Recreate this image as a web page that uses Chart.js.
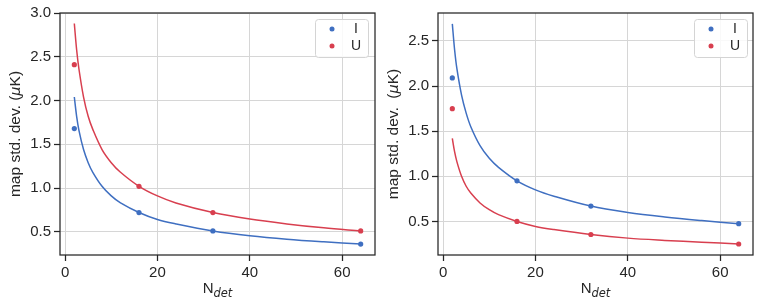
<!DOCTYPE html>
<html>
<head>
<meta charset="utf-8">
<script src="https://cdn.jsdelivr.net/npm/chart.js"></script>
<style>
  body { margin: 0; background: #fff; }
  .panel { position: absolute; top: 0; }
</style>
</head>
<body>
<div class="panel" style="left:0"><canvas id="left" width="380" height="302"></canvas></div>
<div class="panel" style="left:380px"><canvas id="right" width="378" height="302"></canvas></div>
<script>
// Fitted curves
const curveN = [2, 2.5, 3, 4, 5, 6, 8, 10, 12, 16, 20, 24, 32, 40, 48, 56, 64];
const leftCurveI = [2.04, 1.82, 1.66, 1.44, 1.29, 1.18, 1.02, 0.91, 0.83, 0.72, 0.64, 0.59, 0.51, 0.455, 0.415, 0.385, 0.36];
const leftCurveU = [2.88, 2.58, 2.36, 2.04, 1.82, 1.67, 1.44, 1.29, 1.18, 1.02, 0.91, 0.83, 0.72, 0.645, 0.59, 0.545, 0.51];
const rightCurveI = [2.69, 2.40, 2.19, 1.90, 1.70, 1.55, 1.34, 1.20, 1.10, 0.95, 0.85, 0.78, 0.67, 0.60, 0.55, 0.51, 0.475];
const rightCurveU = [1.42, 1.27, 1.16, 1.00, 0.89, 0.815, 0.705, 0.63, 0.575, 0.50, 0.445, 0.41, 0.355, 0.315, 0.29, 0.27, 0.25];

// Measured points
const measN = [2, 16, 32, 64];
const leftMeasI = [1.68, 0.72, 0.51, 0.36];
const leftMeasU = [2.41, 1.02, 0.72, 0.51];
const rightMeasI = [2.09, 0.95, 0.67, 0.475];
const rightMeasU = [1.75, 0.50, 0.355, 0.25];

const seriesLabels = ['I', 'U'];
const xTicks = [0, 20, 40, 60];
const leftYTicks = [0.5, 1.0, 1.5, 2.0, 2.5, 3.0];
const rightYTicks = [0.5, 1.0, 1.5, 2.0, 2.5];

const BLUE = '#3f6fc1';
const RED = '#d83f4f';
const INK = '#262626';
const FONT = '"Liberation Sans", Arial, sans-serif';
const MATH = '"DejaVu Sans", sans-serif';

const pts = (xs, ys) => xs.map((x, i) => ({ x, y: ys[i] }));

// draw a line of mixed-font text centred on (x, y), optionally rotated
function drawRich(ctx, segs, x, y, rot) {
    ctx.save();
    ctx.translate(x, y);
    if (rot) ctx.rotate(rot);
    ctx.fillStyle = INK;
    ctx.textBaseline = 'middle';
    ctx.textAlign = 'left';
    let w = 0;
    segs.forEach(s => { ctx.font = s.font; w += ctx.measureText(s.t).width; });
    let cx = -w / 2;
    segs.forEach(s => {
        ctx.font = s.font;
        ctx.fillText(s.t, cx, s.dy || 0);
        cx += ctx.measureText(s.t).width;
    });
    ctx.restore();
}

const decor = {
    id: 'decor',
    afterDraw(chart, args, o) {
        const { ctx, chartArea: a } = chart;
        // full box of spines
        ctx.save();
        ctx.strokeStyle = INK;
        ctx.lineWidth = 1.25;
        ctx.strokeRect(a.left, a.top, a.right - a.left, a.bottom - a.top);

        // legend frame
        const bx = a.right - o.legendRight - 53, by = a.top + o.legendTop, bw = 53, bh = 38;
        ctx.fillStyle = 'rgba(255,255,255,0.85)';
        ctx.strokeStyle = '#d4d4d4';
        ctx.lineWidth = 1;
        ctx.beginPath();
        ctx.roundRect(bx + 0.5, by + 0.5, bw, bh, 3);
        ctx.fill();
        ctx.stroke();
        [BLUE, RED].forEach((c, i) => {
            const yy = by + 10 + i * 17;
            ctx.fillStyle = c;
            ctx.beginPath();
            ctx.arc(bx + 17, yy, 2.5, 0, Math.PI * 2);
            ctx.fill();
            ctx.fillStyle = INK;
            ctx.font = '14px ' + FONT;
            ctx.textAlign = 'center';
            ctx.textBaseline = 'middle';
            ctx.fillText(seriesLabels[i], bx + 41, yy);
        });
        ctx.restore();

        // axis titles
        const midY = (a.top + a.bottom) / 2;
        drawRich(ctx, [
            { t: o.yPrefix, font: '15.5px ' + FONT },
            { t: 'μ', font: 'italic 14.5px ' + MATH },
            { t: 'K)', font: '15.5px ' + FONT }
        ], o.yTitleX, midY, -Math.PI / 2);
        drawRich(ctx, [
            { t: 'N', font: '15px ' + FONT },
            { t: 'det', font: 'italic 11.5px ' + MATH, dy: 5 }
        ], (a.left + a.right) / 2, 289, 0);
    }
};

function makeChart(id, cfg) {
    const curve = (data, color) => ({
        type: 'line', data, borderColor: color, borderWidth: 1.5,
        pointRadius: 0, tension: 0.35, fill: false
    });
    const dots = (label, data, color) => ({
        type: 'scatter', label, data, backgroundColor: color, borderWidth: 0, pointRadius: 2.6
    });
    const datasets = [
        curve(pts(curveN, cfg.curveI), BLUE),
        curve(pts(curveN, cfg.curveU), RED),
        dots(seriesLabels[0], pts(measN, cfg.measI), BLUE),
        dots(seriesLabels[1], pts(measN, cfg.measU), RED)
    ];
    return new Chart(document.getElementById(id), {
        type: 'scatter',
        data: { datasets },
        options: {
            responsive: false,
            animation: false,
            layout: { padding: { top: cfg.padTop, right: cfg.padRight, left: 0, bottom: 0 } },
            plugins: {
                legend: { display: false },
                tooltip: { enabled: false },
                decor: { legendRight: cfg.legendRight, legendTop: cfg.legendTop, yPrefix: cfg.yPrefix, yTitleX: cfg.yTitleX }
            },
            scales: {
                x: {
                    type: 'linear', min: -1.1, max: 67.1,
                    afterBuildTicks: s => { s.ticks = xTicks.map(v => ({ value: v })); },
                    afterFit: s => { s.height = 47; },
                    grid: { color: '#d6d6d6', lineWidth: 1, tickColor: INK, tickLength: 6, tickWidth: 1.25 },
                    border: { display: false },
                    ticks: { color: INK, font: { family: FONT, size: 15 }, padding: 3, maxRotation: 0 }
                },
                y: {
                    type: 'linear', min: cfg.yMin, max: cfg.yMax,
                    afterBuildTicks: s => { s.ticks = cfg.yTicks.map(v => ({ value: v })); },
                    afterFit: s => { s.width = cfg.yWidth; },
                    grid: { color: '#d6d6d6', lineWidth: 1, tickColor: INK, tickLength: 6, tickWidth: 1.25 },
                    border: { display: false },
                    ticks: { color: INK, font: { family: FONT, size: 15 }, padding: 3,
                             callback: v => v.toFixed(1) }
                }
            }
        },
        plugins: [decor]
    });
}

makeChart('left', {
    curveI: leftCurveI, curveU: leftCurveU, measI: leftMeasI, measU: leftMeasU,
    yMin: 0.235, yMax: 3.0, yTicks: leftYTicks, yWidth: 60, padTop: 13, padRight: 5,
    legendRight: 7, legendTop: 6, yPrefix: 'map std. dev. (', yTitleX: 16
});
makeChart('right', {
    curveI: rightCurveI, curveU: rightCurveU, measI: rightMeasI, measU: rightMeasU,
    yMin: 0.128, yMax: 2.81, yTicks: rightYTicks, yWidth: 58, padTop: 13, padRight: 5,
    legendRight: 6, legendTop: 6, yPrefix: 'map std. dev.  (', yTitleX: 14
});
</script>
</body>
</html>
